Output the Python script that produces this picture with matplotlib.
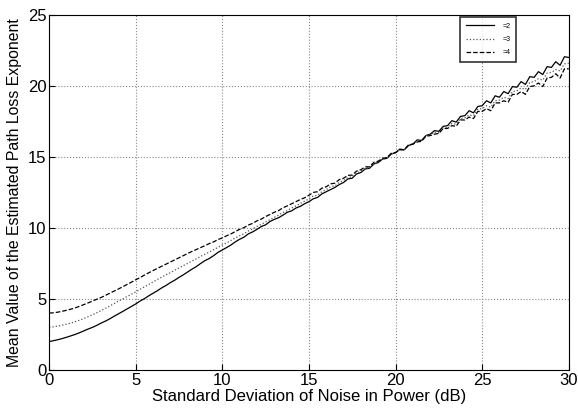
import numpy as np
import matplotlib
matplotlib.use('Agg')
import matplotlib.pyplot as plt

plt.rcParams['font.family'] = ['Liberation Sans', 'DejaVu Sans']

# noise standard deviation (dB), 0.25 dB steps
sigma = np.arange(0, 30.01, 0.25)

# mean estimated path loss exponent, true n = 2, 3, 4
n2 = [2.00, 2.06, 2.13, 2.21, 2.30,
      2.40, 2.50, 2.62, 2.75, 2.88, 3.00, 3.14, 3.30,
      3.44, 3.60, 3.78, 3.95, 4.12, 4.30, 4.47, 4.65,
      4.85, 5.02, 5.22, 5.40, 5.58, 5.78, 5.95, 6.15,
      6.32, 6.52, 6.70, 6.90, 7.10, 7.28, 7.50, 7.70,
      7.85, 8.05, 8.28, 8.45, 8.62, 8.80, 9.02, 9.20,
      9.35, 9.58, 9.72, 9.90, 10.10, 10.22, 10.45, 10.60,
      10.72, 10.90, 11.10, 11.20, 11.40, 11.52, 11.70, 11.85,
      12.05, 12.15, 12.40, 12.55, 12.70, 12.85, 13.05, 13.20,
      13.45, 13.50, 13.80, 13.90, 14.15, 14.20, 14.50, 14.60,
      14.85, 14.90, 15.20, 15.30, 15.55, 15.50, 15.80, 15.90,
      16.20, 16.15, 16.50, 16.60, 16.85, 16.80, 17.15, 17.20,
      17.55, 17.45, 17.85, 17.90, 18.25, 18.10, 18.55, 18.60,
      18.95, 18.80, 19.30, 19.20, 19.60, 19.45, 19.95, 19.90,
      20.30, 20.10, 20.65, 20.60, 21.00, 20.80, 21.35, 21.30,
      21.70, 21.45, 22.05, 22.00]

n3 = [3.00, 3.04, 3.09, 3.15, 3.22,
      3.30, 3.40, 3.50, 3.62, 3.75, 3.88, 4.03, 4.18,
      4.33, 4.50, 4.67, 4.85, 5.00, 5.17, 5.33, 5.50,
      5.68, 5.85, 6.02, 6.20, 6.37, 6.53, 6.70, 6.85,
      7.02, 7.18, 7.35, 7.50, 7.67, 7.82, 8.00, 8.15,
      8.30, 8.47, 8.63, 8.80, 8.95, 9.12, 9.30, 9.45,
      9.60, 9.78, 9.93, 10.10, 10.25, 10.42, 10.58, 10.75,
      10.90, 11.08, 11.22, 11.40, 11.55, 11.72, 11.88, 12.05,
      12.25, 12.30, 12.55, 12.70, 12.90, 12.95, 13.20, 13.35,
      13.55, 13.60, 13.85, 14.00, 14.20, 14.25, 14.50, 14.65,
      14.85, 14.90, 15.20, 15.30, 15.50, 15.50, 15.80, 15.90,
      16.10, 16.15, 16.50, 16.55, 16.75, 16.70, 17.05, 17.10,
      17.35, 17.30, 17.70, 17.75, 17.95, 17.90, 18.35, 18.40,
      18.60, 18.50, 18.95, 19.00, 19.20, 19.10, 19.60, 19.65,
      19.85, 19.75, 20.25, 20.30, 20.50, 20.40, 20.90, 20.95,
      21.15, 21.05, 21.55, 21.60]

n4 = [4.00, 4.03, 4.07, 4.13, 4.20,
      4.28, 4.37, 4.48, 4.60, 4.72, 4.85, 4.98, 5.10,
      5.25, 5.40, 5.55, 5.70, 5.86, 6.02, 6.18, 6.35,
      6.50, 6.68, 6.84, 7.00, 7.15, 7.30, 7.45, 7.60,
      7.75, 7.90, 8.05, 8.20, 8.35, 8.48, 8.62, 8.75,
      8.90, 9.02, 9.18, 9.30, 9.45, 9.58, 9.75, 9.90,
      10.02, 10.20, 10.32, 10.50, 10.62, 10.80, 10.95, 11.10,
      11.22, 11.42, 11.55, 11.70, 11.85, 12.00, 12.12, 12.30,
      12.50, 12.55, 12.80, 12.90, 13.10, 13.15, 13.40, 13.50,
      13.70, 13.72, 14.00, 14.10, 14.30, 14.30, 14.62, 14.70,
      14.90, 14.95, 15.25, 15.30, 15.50, 15.50, 15.85, 15.90,
      16.05, 16.10, 16.45, 16.50, 16.60, 16.65, 17.00, 17.00,
      17.20, 17.15, 17.60, 17.60, 17.80, 17.70, 18.20, 18.20,
      18.40, 18.25, 18.80, 18.80, 18.95, 18.85, 19.40, 19.40,
      19.60, 19.40, 19.95, 20.00, 20.20, 19.95, 20.55, 20.60,
      20.85, 20.55, 21.20, 21.20]

labels = ['=2', '=3', '=4']

fig = plt.figure(figsize=(5.78, 4.12), dpi=100)
ax = fig.add_axes([0.085, 0.102, 0.899, 0.862])

ax.plot(sigma, n2, color='black', linestyle='-', linewidth=0.9, label=labels[0])
ax.plot(sigma, n3, color='#555555', linestyle=':', linewidth=0.9, label=labels[1])
ax.plot(sigma, n4, color='black', linestyle='--', linewidth=0.9, label=labels[2])

ax.set_xlim(0, 30)
ax.set_ylim(0, 25)
ax.set_xticks(range(0, 31, 5))
ax.set_yticks(range(0, 26, 5))
ax.tick_params(direction='in', labelsize=12, length=4, width=0.8, pad=2)
ax.grid(True, linestyle=':', color='#888888', linewidth=0.8)
for s in ax.spines.values():
    s.set_linewidth(0.8)

ax.set_xlabel('Standard Deviation of Noise in Power (dB)', fontsize=12, labelpad=1)
ax.set_ylabel('Mean Value of the Estimated Path Loss Exponent', fontsize=11.4, labelpad=4)

leg = ax.legend(loc='upper right', bbox_to_anchor=(0.899, 0.9935), fontsize=5,
                frameon=True, fancybox=False, handlelength=4.0, borderpad=0.8,
                labelspacing=0.9, handletextpad=1.3, borderaxespad=0)
leg.get_frame().set_edgecolor('black')
leg.get_frame().set_linewidth(1.2)

fig.savefig('out.png', dpi=100)
